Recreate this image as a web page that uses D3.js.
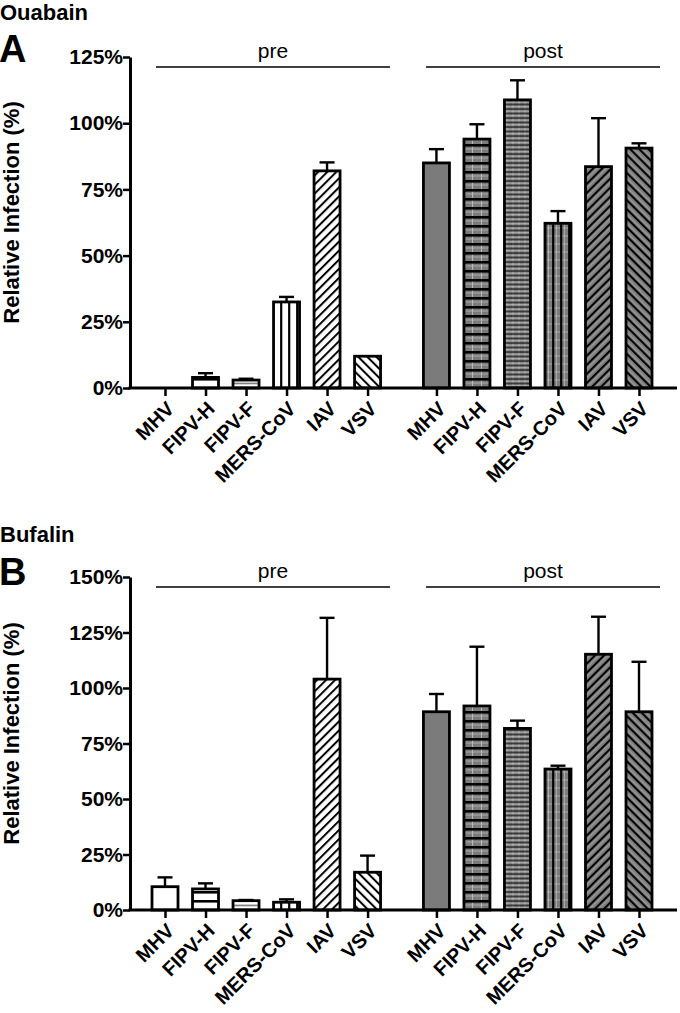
<!DOCTYPE html>
<html><head><meta charset="utf-8">
<script src="https://cdn.jsdelivr.net/npm/d3@7"></script>
<style>
html,body{margin:0;padding:0;background:#fff;}
svg{display:block;font-family:"Liberation Sans",Arial,Helvetica,sans-serif;}
</style></head>
<body>
<svg id="chart" width="680" height="1013"></svg>
<script>
// ---- data ----
const categories = ["MHV", "FIPV-H", "FIPV-F", "MERS-CoV", "IAV", "VSV"];
const groups = ["pre", "post"];
const ouabainPre = [0, 4, 3, 32.5, 82, 12];
const ouabainPreSem = [0, 1.6, 0.5, 1.9, 3.2, 0];
const ouabainPost = [85, 94, 108.8, 62.2, 83.6, 90.6];
const ouabainPostSem = [5.2, 5.6, 7.4, 4.6, 18.3, 1.8];
const bufalinPre = [10.5, 9.5, 4.2, 3.5, 104, 17];
const bufalinPreSem = [4.2, 2.5, 0.3, 1.3, 27.6, 7.5];
const bufalinPost = [89.3, 91.9, 81.8, 63.5, 115.2, 89.3];
const bufalinPostSem = [8, 26.7, 3.5, 1.5, 16.9, 22.5];
const ouabainTicks = [0, 25, 50, 75, 100, 125];
const bufalinTicks = [0, 25, 50, 75, 100, 125, 150];

const svg = d3.select("#chart");
const defs = svg.append("defs");
const GREY = "#7b7b7b";

// ---- patterns ----
function pattern(id, bg, w, h, rot, draw) {
  const p = defs.append("pattern").attr("id", id).attr("patternUnits", "userSpaceOnUse")
    .attr("width", w).attr("height", h);
  if (rot) p.attr("patternTransform", "rotate(" + rot + ")");
  p.append("rect").attr("width", w).attr("height", h).attr("fill", bg);
  draw(p);
}
function ln(p, x1, y1, x2, y2, c, sw) {
  p.append("line").attr("x1", x1).attr("y1", y1).attr("x2", x2).attr("y2", y2)
    .attr("stroke", c).attr("stroke-width", sw);
}
[["pre", "#fff", false], ["post", GREY, true]].forEach(([g, bg, light]) => {
  const lc = "#c8c8c8";
  pattern("p-" + g + "-0", bg, 10, 10, 0, p => {});
  pattern("p-" + g + "-1", bg, 9, 9, 0, p => {
    if (light) { ln(p, 4.5, 0, 4.5, 9, lc, 0.8); ln(p, 0, 5, 9, 5, lc, 0.6); }
    ln(p, 0, 1.3, 9, 1.3, "#000", 2.6);
  });
  pattern("p-" + g + "-2", bg, 6, 4.5, 0, p => {
    if (light) { ln(p, 3, 0, 3, 4.5, lc, 0.6); ln(p, 0, 3.3, 6, 3.3, lc, 0.7); }
    ln(p, 0, 1, 6, 1, light ? "#222" : "#555", 1.3);
  });
  pattern("p-" + g + "-3", bg, 8, 8, 0, p => {
    if (light) { ln(p, 0, 4, 8, 4, lc, 0.6); ln(p, 4.5, 0, 4.5, 8, lc, 0.6); }
    ln(p, 1.2, 0, 1.2, 8, "#000", 2.2);
  });
  pattern("p-" + g + "-4", bg, 6.4, 10, 45, p => {
    if (light) ln(p, 3.6, 0, 3.6, 10, lc, 0.6);
    ln(p, 1, 0, 1, 10, "#000", 2);
  });
  pattern("p-" + g + "-5", bg, 6.4, 10, -45, p => {
    if (light) ln(p, 3.6, 0, 3.6, 10, lc, 0.6);
    ln(p, 1, 0, 1, 10, "#000", 2);
  });
});

// ---- panel ----
const axisX = 130, axisRight = 677;
const slot = (g, i) => (g === 0 ? i : i + 6.7);

function drawPanel(cfg) {
  const g = svg.append("g");
  const y = d3.scaleLinear().domain([0, d3.max(cfg.ticks)]).range([cfg.y0, cfg.y1]);
  const x = d3.scaleLinear().domain([0, 11.7]).range([165, 639]);

  // titles
  g.append("text").attr("x", 0).attr("y", cfg.titleY).attr("font-size", 22).attr("font-weight", "bold").text(cfg.title);
  g.append("text").attr("x", -1).attr("y", cfg.letterY).attr("font-size", 38).attr("font-weight", "bold").text(cfg.letter);
  g.append("text").attr("transform", "translate(19," + ((cfg.y0 + cfg.y1) / 2 - 10) + ") rotate(-90)")
    .attr("text-anchor", "middle").attr("font-size", 22).attr("font-weight", "bold").text("Relative Infection (%)");

  // group lines
  groups.forEach((gn, gi) => {
    const xs = gi === 0 ? [156, 390] : [426, 660];
    g.append("line").attr("x1", xs[0]).attr("x2", xs[1]).attr("y1", cfg.y1 + 10).attr("y2", cfg.y1 + 10)
      .attr("stroke", "#000").attr("stroke-width", 1.5);
    g.append("text").attr("x", (xs[0] + xs[1]) / 2).attr("y", cfg.y1 + 1).attr("text-anchor", "middle")
      .attr("font-size", 21).text(gn);
  });

  // bars
  const data = [];
  cfg.series.forEach((s, gi) => s.vals.forEach((v, i) => data.push({ g: gi, i, v, sem: s.sem[i] })));
  const bw = 26;
  data.forEach(d => {
    const cx = x(slot(d.g, d.i));
    if (d.sem > 0) {
      const yt = y(d.v + d.sem);
      g.append("line").attr("x1", cx).attr("x2", cx).attr("y1", y(d.v)).attr("y2", yt).attr("stroke", "#000").attr("stroke-width", 2.4);
      g.append("line").attr("x1", cx - 7.5).attr("x2", cx + 7.5).attr("y1", yt).attr("y2", yt).attr("stroke", "#000").attr("stroke-width", 2.4);
    }
    if (d.v > 0) {
      g.append("rect").attr("x", cx - bw / 2).attr("width", bw).attr("y", y(d.v)).attr("height", y(0) - y(d.v))
        .attr("fill", "url(#p-" + groups[d.g] + "-" + d.i + ")").attr("stroke", "#000").attr("stroke-width", 2.8);
    }
  });

  // y axis
  const ya = g.append("g").attr("transform", "translate(" + axisX + ",0)")
    .call(d3.axisLeft(y).tickValues(cfg.ticks).tickFormat(d => d + "%").tickSize(7).tickSizeOuter(0));
  ya.select(".domain").attr("stroke-width", 3);
  ya.selectAll(".tick line").attr("stroke-width", 2.5);
  ya.selectAll(".tick text").attr("font-size", 21).attr("font-weight", "bold").attr("font-family", "Liberation Sans, Arial, sans-serif")
    .attr("x", -7).attr("fill", "#000");

  // x axis
  g.append("line").attr("x1", axisX - 1.5).attr("x2", axisRight).attr("y1", y(0)).attr("y2", y(0)).attr("stroke", "#000").attr("stroke-width", 3);
  const slots = [];
  groups.forEach((gn, gi) => categories.forEach((c, i) => slots.push({ s: slot(gi, i), c })));
  const xa = g.append("g").attr("transform", "translate(0," + y(0) + ")")
    .call(d3.axisBottom(x).tickValues(slots.map(d => d.s)).tickFormat((d, k) => slots[k].c).tickSize(8).tickSizeOuter(0));
  xa.select(".domain").remove();
  xa.selectAll(".tick line").attr("stroke-width", 2.5);
  xa.selectAll(".tick text").attr("font-size", 20).attr("font-weight", "bold").attr("font-family", "Liberation Sans, Arial, sans-serif")
    .attr("fill", "#000").attr("text-anchor", "end").attr("y", 0).attr("dy", "0.35em")
    .attr("transform", "translate(5,17) rotate(-45)");
}

drawPanel({ title: "Ouabain", letter: "A", titleY: 20, letterY: 62, y0: 388, y1: 57, ticks: ouabainTicks,
  series: [{ vals: ouabainPre, sem: ouabainPreSem }, { vals: ouabainPost, sem: ouabainPostSem }] });
drawPanel({ title: "Bufalin", letter: "B", titleY: 542, letterY: 585, y0: 910, y1: 577, ticks: bufalinTicks,
  series: [{ vals: bufalinPre, sem: bufalinPreSem }, { vals: bufalinPost, sem: bufalinPostSem }] });
</script>
</body></html>
